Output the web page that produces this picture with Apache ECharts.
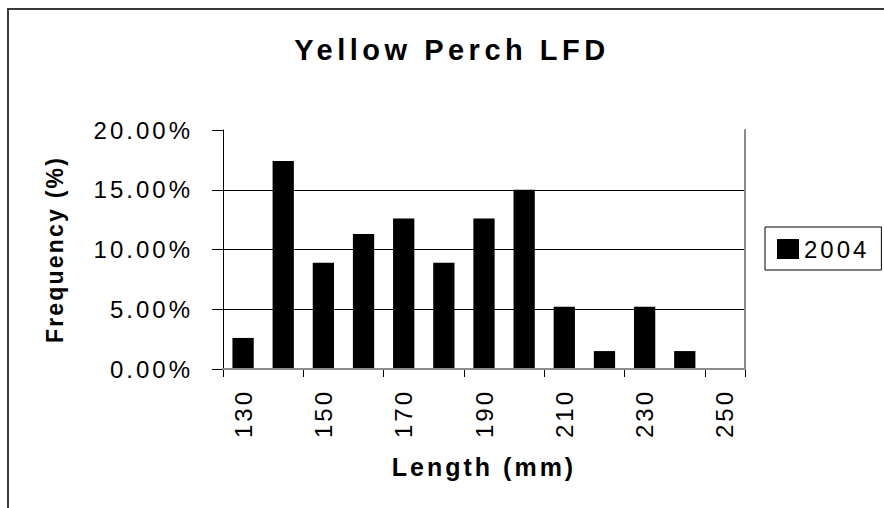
<!DOCTYPE html>
<html>
<head>
<meta charset="utf-8">
<script src="https://cdn.jsdelivr.net/npm/echarts@6/dist/echarts.min.js"></script>
<style>
  html, body { margin: 0; padding: 0; background: #fff; }
  #chart { width: 884px; height: 508px; }
  /* Excel-style wide tracking, keyed on each text role's font size */
  #chart text[style*="29px"] { letter-spacing: 4.5px; }
  #chart text[style*="25px"] { letter-spacing: 3px; }
  #chart text[style*="23px"] { letter-spacing: 2.2px; }
  #chart text[style*="24px"] { letter-spacing: 3px; }
</style>
</head>
<body>
<div id="chart"></div>
<script>
// Length classes (mm)
const lengths = ['130', '140', '150', '160', '170', '180', '190', '200', '210', '220', '230', '240', '250'];
// Share of the 2004 catch in each length class (%)
const freq2004 = [2.6, 17.4, 8.9, 11.3, 12.6, 8.9, 12.6, 15.0, 5.2, 1.5, 5.2, 1.5, 0];
// Frequency axis range and step (%)
const yMin = 0;
const yMax = 20;
const yStep = 5;

const FONT = '"Liberation Sans", Arial, sans-serif';

const chart = echarts.init(document.getElementById('chart'), null, { renderer: 'svg' });

chart.setOption({
  animation: false,
  backgroundColor: '#fff',
  graphic: [
    {
      type: 'rect',
      shape: { x: 8, y: 9, width: 900, height: 520 },
      style: { fill: 'none', stroke: '#3a3a3a', lineWidth: 2 },
      z: 0
    },
    {
      type: 'text',
      x: 452,
      y: 50,
      style: {
        text: 'Yellow Perch LFD',
        font: 'bold 29px ' + FONT,
        fill: '#000',
        align: 'center',
        verticalAlign: 'middle',
        textAlign: 'center',
        textVerticalAlign: 'middle'
      },
      z: 10
    }
  ],
  legend: {
    left: 765,
    top: 227,
    orient: 'vertical',
    padding: [10, 24, 9, 12],
    borderColor: '#000',
    borderWidth: 1,
    borderRadius: 0,
    itemWidth: 22,
    itemHeight: 20,
    icon: 'rect',
    textStyle: { fontFamily: FONT, fontSize: 24, color: '#000' },
    data: ['2004']
  },
  grid: { left: 223, right: 139, top: 130, bottom: 139, containLabel: false },
  xAxis: [
    {
      type: 'category',
      data: lengths,
      position: 'bottom',
      name: 'Length (mm)',
      nameLocation: 'middle',
      nameGap: 85,
      nameTextStyle: { fontFamily: FONT, fontSize: 25, fontWeight: 'bold', color: '#000' },
      axisLine: { lineStyle: { color: '#000', width: 1 } },
      axisTick: { show: true, length: 8, lineStyle: { color: '#000' } },
      axisLabel: {
        interval: 1,
        rotate: 90,
        margin: 20,
        padding: [0, 0, 10, 0],
        fontFamily: FONT,
        fontSize: 24,
        color: '#000'
      },
      splitLine: { show: false }
    },
    {
      type: 'category',
      data: lengths,
      position: 'top',
      axisLine: { lineStyle: { color: '#8c8c8c', width: 2 } },
      axisTick: { show: false },
      axisLabel: { show: false },
      z: 5
    }
  ],
  yAxis: [
    {
      type: 'value',
      min: yMin,
      max: yMax,
      interval: yStep,
      name: 'Frequency (%)',
      nameLocation: 'middle',
      nameGap: 157,
      nameTextStyle: { fontFamily: FONT, fontSize: 23, fontWeight: 'bold', color: '#000' },
      axisLine: { show: true, lineStyle: { color: '#000', width: 1 } },
      axisTick: { show: true, length: 11, lineStyle: { color: '#000' } },
      axisLabel: {
        margin: 30,
        fontFamily: FONT,
        fontSize: 24,
        color: '#000',
        formatter: v => v.toFixed(2) + '%'
      },
      splitLine: {
        show: true,
        showMinLine: false,
        showMaxLine: false,
        lineStyle: { color: '#000', width: 1 }
      }
    },
    {
      type: 'value',
      min: yMin,
      max: yMax,
      interval: yStep,
      position: 'right',
      axisLine: { show: true, lineStyle: { color: '#8c8c8c', width: 2 } },
      axisTick: { show: false },
      axisLabel: { show: false },
      splitLine: { show: false },
      z: 5
    }
  ],
  series: [
    {
      name: '2004',
      type: 'bar',
      xAxisIndex: 0,
      yAxisIndex: 0,
      data: freq2004,
      barCategoryGap: '47%',
      itemStyle: { color: '#000' },
      z: 3
    }
  ]
});
</script>
</body>
</html>
